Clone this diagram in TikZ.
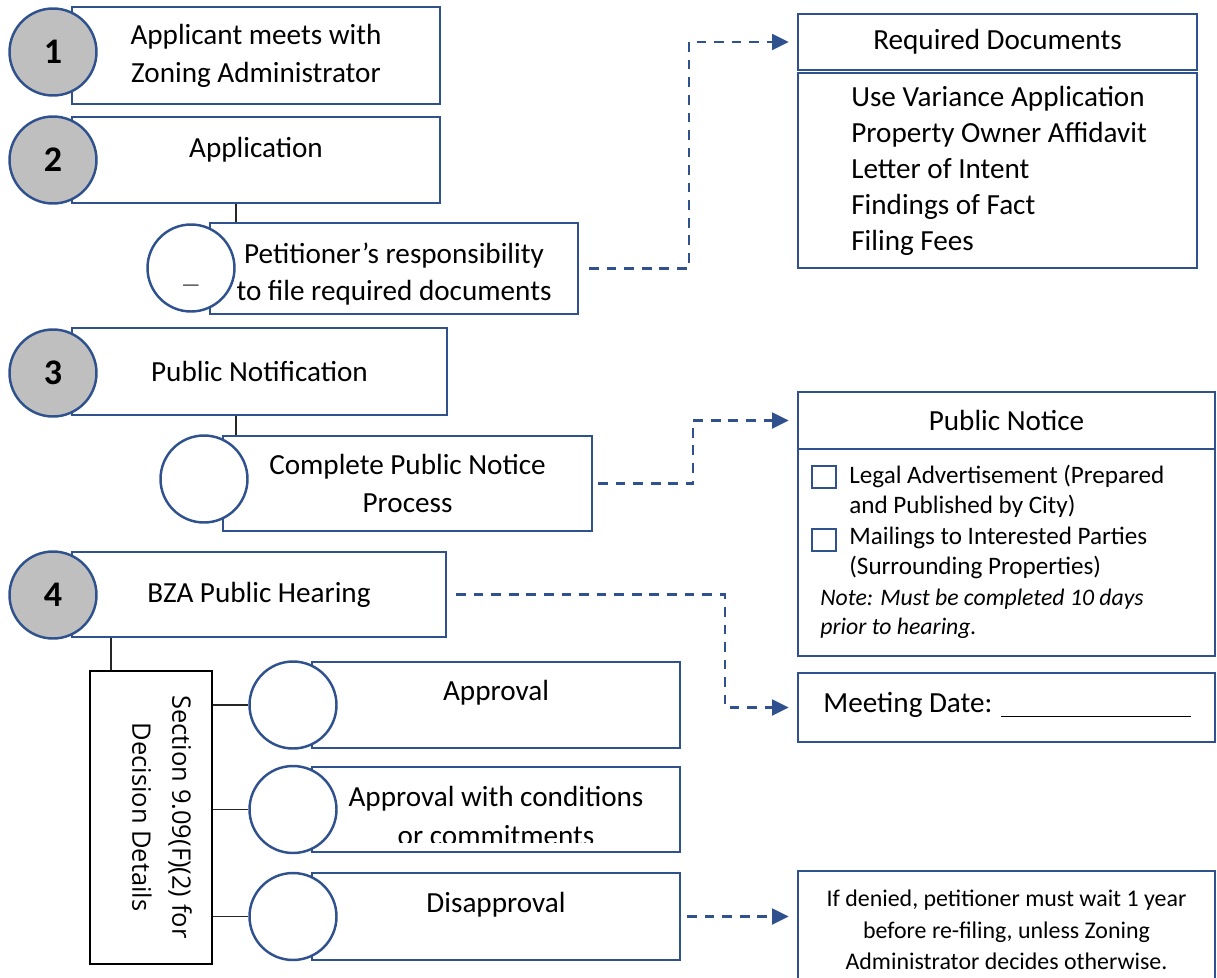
\documentclass[tikz,border=0pt]{standalone}
\usepackage{fontspec}
\setmainfont{Carlito}
\newfontfamily\sidefont{Open Sans}
\usetikzlibrary{arrows.meta}
\definecolor{frameblue}{RGB}{47,82,143}
\definecolor{stepgray}{RGB}{191,191,191}

\begin{document}
\begin{tikzpicture}[x=0.02cm,y=-0.02cm,
    font=\fontsize{16.6}{21.5}\selectfont,
    stepbox/.style={draw=frameblue,line width=1.4pt,fill=white,align=center,
      minimum width=7.36cm,inner sep=0pt},
    infobox/.style={draw=frameblue,line width=1.4pt,minimum width=7.98cm,inner sep=0pt},
    numcirc/.style={circle,draw=frameblue,line width=1.4pt,fill=stepgray,
      minimum size=1.74cm,inner sep=0pt,font=\fontsize{20.5}{20.5}\selectfont\bfseries},
    opencirc/.style={numcirc,fill=white},
    chk/.style={draw=frameblue,line width=1.4pt,minimum width=0.48cm,
      minimum height=0.44cm,inner sep=0pt},
    conn/.style={line width=0.8pt,black!85},
    dasharrow/.style={frameblue,line width=1.4pt,dash pattern=on 5.5pt off 4.5pt,
      -{Triangle[length=9.5pt,width=9pt]},shorten >=0.16cm},
  ]
  \clip (0,0) rectangle (1217,977);

  % steps 1 and 2
  \node[stepbox,minimum height=1.94cm] (b1) at (256,55.5) {Applicant meets with\\Zoning Administrator};
  \node[numcirc] (c1) at (53,52) {1};
  \node[stepbox,minimum height=1.72cm] (b2) at (256,160) {};
  \node (t2) at (256,150) {Application};
  \node[numcirc] (c2) at (53,160) {2};

  \node[stepbox,minimum height=1.82cm] (pb) at (394,268.5) {};
  \node[align=center] (pt) at (394,274) {Petitioner’s responsibility\\to file required documents};
  \node[opencirc] (pc) at (191,268) {};
  \node[font=\fontsize{12}{12}\selectfont,text=black!75] (pd) at (191,288) {\textemdash};
  \draw[conn] ([xshift=-0.4cm]b2.south) -- ([xshift=-0.4cm]b2.south |- pb.north);

  % required documents
  \node[infobox,minimum height=1.12cm] (rdh) at (997.5,42) {Required Documents};
  \node[infobox,minimum height=3.9cm] (rdb) at (997.5,170.5) {};
  \node[anchor=west,align=left,inner sep=0pt,font=\fontsize{16.6}{20.4}\selectfont] (rdl) at (851,171)
    {Use Variance Application\\Property Owner Affidavit\\Letter of Intent\\Findings of Fact\\Filing Fees};
  \draw[dasharrow,shorten <=0.2cm] (pb.east) -| ([xshift=-2.16cm]rdh.west) -- (rdh.west);

  % step 3
  \node[stepbox,minimum width=7.5cm,minimum height=1.74cm] (b3) at (259.5,371.5) {Public Notification};
  \node[numcirc] (c3) at (53,373) {3};
  \node[stepbox,minimum width=7.38cm,minimum height=1.9cm] (pn) at (407.5,483.5) {Complete Public Notice\\Process};
  \node[opencirc] (nc) at (204,479) {};
  \draw[conn] ([xshift=-0.47cm]b3.south) -- ([xshift=-0.47cm]b3.south |- pn.north);

  % public notice
  \node[infobox,minimum width=8.34cm,minimum height=1.14cm] (pnh) at (1006.5,420.5) {Public Notice};
  \node[infobox,minimum width=8.34cm,minimum height=4.14cm] (pnb) at (1006.5,552.5) {};
  \node[chk] (k1) at (824,477) {};
  \node[chk] (k2) at (824,540) {};
  \node[anchor=west,align=left,inner sep=0pt,font=\fontsize{14.3}{17.4}\selectfont] (pnl) at (849,522)
    {Legal Advertisement (Prepared\\and Published by City)\\Mailings to Interested Parties\\(Surrounding Properties)};
  \node[anchor=west,align=left,inner sep=0pt,font=\fontsize{13.5}{16.4}\selectfont\itshape] (pnn) at (820,613.5)
    {Note: Must be completed 10 days\\prior to hearing.};
  \draw[dasharrow,shorten <=0.1cm] (pn.east) -| ([xshift=-2.08cm]pnh.west) -- (pnh.west);

  % step 4
  \node[stepbox,minimum width=7.48cm,minimum height=1.7cm] (b4) at (259,594.5) {BZA Public Hearing};
  \node[numcirc] (c4) at (53,595) {4};
  \node[draw,line width=1.1pt,minimum width=2.44cm,minimum height=5.86cm,inner sep=0pt] (vb) at (151,817.5) {};
  \node[rotate=-90,align=center,font=\sidefont\fontsize{14.5}{22.7}\selectfont] (vt) at (162,817)
    {Section 9.09(F)(2) for\\Decision Details};
  \draw[conn] ([xshift=-0.8cm]vb.north) -- ([xshift=-0.8cm]vb.north |- b4.south);

  \node[stepbox,minimum height=1.72cm] (ap) at (496,705) {};
  \node (apt) at (496,693) {Approval};
  \node[opencirc] (apc) at (293,705) {};
  \node[stepbox,minimum height=1.7cm] (ac) at (496,809.5) {};
  \begin{scope}
    \clip (312,760) rectangle (680,842);
    \node[align=center,font=\fontsize{16.6}{22.5}\selectfont] (act) at (496,816)
      {Approval with conditions\\or commitments};
  \end{scope}
  \node[opencirc] (acc) at (293,809.5) {};
  \node[stepbox,minimum height=1.74cm] (dp) at (496,916.5) {};
  \node (dpt) at (496,905) {Disapproval};
  \node[opencirc] (dpc) at (293,916.5) {};
  \foreach \c in {apc,acc,dpc}
    \draw[conn] (vb.east |- \c) -- (\c.west);

  % meeting date and denial note
  \node[infobox,minimum width=8.34cm,minimum height=1.38cm] (md) at (1006.5,707.5) {};
  \node[anchor=base west,inner sep=0pt] (mdt) at (823,712) {Meeting Date: \rule[-3pt]{3.8cm}{0.7pt}};
  \draw[dasharrow,shorten <=0.18cm] (b4.east) -| ([xshift=-1.44cm]md.west) -- (md.west);

  \node[infobox,minimum width=8.34cm,minimum height=2.4cm] (dn) at (1006.5,931) {};
  \node[align=center,font=\fontsize{13.6}{17.9}\selectfont] (dnt) at (1006.5,930)
    {If denied, petitioner must wait 1 year\\before re-filing, unless Zoning\\Administrator decides otherwise.};
  \draw[dasharrow,shorten <=0.12cm] (dp.east) -- (dp.east -| dn.west);
\end{tikzpicture}
\end{document}
